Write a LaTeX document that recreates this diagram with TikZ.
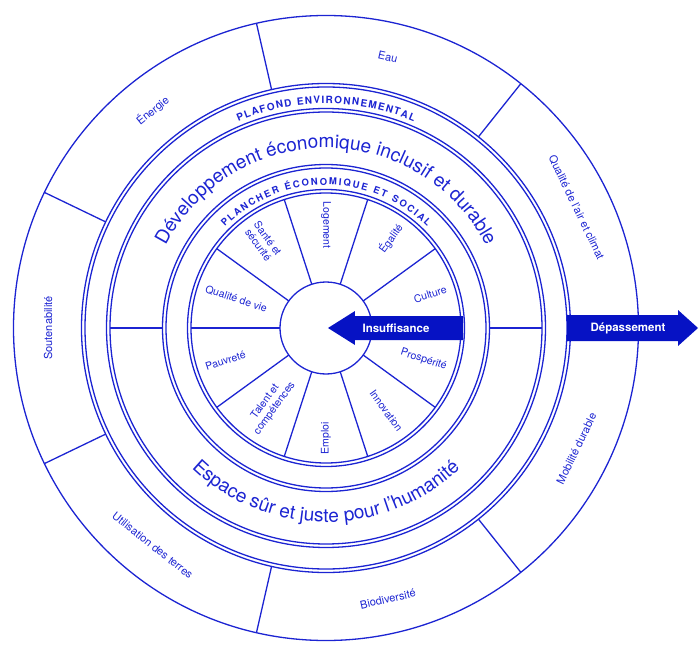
\documentclass[tikz,border=0pt]{standalone}
\usepackage{fontspec}
\setmainfont{TeX Gyre Heros}
\usetikzlibrary{decorations.text}
\definecolor{azul}{RGB}{28,36,210}
\definecolor{azulfuerte}{RGB}{6,18,196}
\newcommand{\chico}{\fontsize{10.5}{11.5}\selectfont}
\newcommand{\medio}{\fontsize{11}{12}\selectfont}
\newcommand{\grande}{\fontsize{19}{21}\selectfont}
\newcommand{\anillo}{\fontsize{10}{11}\selectfont\bfseries}
\newcommand{\piso}{\fontsize{9.5}{11}\selectfont\bfseries}

\begin{document}
\begin{tikzpicture}[x=1pt,y=1pt,line width=1.3pt,
    externo/.style={text=azul,font=\medio},
    interno/.style={text=azul,font=\chico,inner sep=0pt,align=center},
    flecha/.style={text=white,font=\fontsize{11.5}{12}\selectfont\bfseries}]
\useasboundingbox (-326,-328) rectangle (373,328);
% anillos
\draw[azul] (0,0) circle (312.5);
\draw[azul] (0,0) circle (244.5);
\draw[azul] (0,0) circle (241);
\draw[azul] (0,0) circle (219.5);
\draw[azul] (0,0) circle (216);
\draw[azul] (0,0) circle (163.5);
\draw[azul] (0,0) circle (160);
\draw[azul] (0,0) circle (138.5);
\draw[azul] (0,0) circle (135);
\draw[azul] (0,0) circle (46);
% divisiones
\foreach \i in {0,...,6} \draw[azul] ({\i*360/7}:244.5) -- ({\i*360/7}:312.5);
\foreach \a in {0,36,...,324} \draw[azul] (\a:46) -- (\a:135);
\draw[azul] (0:163.5) -- (0:216);
\draw[azul] (180:163.5) -- (180:216);
% textos curvos
\path[decorate,decoration={text along path,text color=azul,text align={fit to path},
    text={|\anillo|PLAFOND ENVIRONNEMENTAL}}] (113:224.5) arc[start angle=113,end angle=67,radius=224.5];
\path[decorate,decoration={text along path,text color=azul,text align={fit to path},
    text={|\piso|PLANCHER ÉCONOMIQUE ET SOCIAL}}] (135:143) arc[start angle=135,end angle=45,radius=143];
\path[decorate,decoration={text along path,text color=azul,text align=center,
    text={|\grande|Développement économique inclusif et durable}}] (170:180) arc[start angle=170,end angle=10,radius=180];
\path[decorate,decoration={text along path,text color=azul,text align=center,
    text={|\grande|Espace sûr et juste pour l'humanité}}] (190:194) arc[start angle=190,end angle=350,radius=194];
% limites ambientales
\node[externo,rotate=-12.86] (eau) at (77.14:278) {Eau};
\node[externo,rotate=-64.29] (air) at (25.71:278) {Qualité de l'air et climat};
\node[externo,rotate=64.29] (mobilite) at (-25.71:278) {Mobilité durable};
\node[externo,rotate=12.86] (biodiv) at (-77.14:278) {Biodiversité};
\node[externo,rotate=-38.57] (terres) at (231.43:278) {Utilisation des terres};
\node[externo,rotate=90] (soutenab) at (180:278) {Soutenabilité};
\node[externo,rotate=38.57] (energie) at (128.57:278) {Énergie};
% piso social
\node[interno,rotate=-90,anchor=west] (logement) at (90:127) {Logement};
\node[interno,rotate=54,anchor=east] (egalite) at (54:127) {Égalité};
\node[interno,rotate=18,anchor=east] (culture) at (18:127) {Culture};
\node[interno,rotate=-18,anchor=east] (prosperite) at (-18:127) {Prospérité};
\node[interno,rotate=-54,anchor=east] (innovation) at (-54:127) {Innovation};
\node[interno,rotate=90,anchor=west] (emploi) at (-90:127) {Emploi};
\node[interno,rotate=54,anchor=west] (talent) at (-126:127) {Talent et\\compétences};
\node[interno,rotate=18,anchor=west] (pauvrete) at (198:127) {Pauvreté};
\node[interno,rotate=-18,anchor=west] (qualite) at (162:127) {Qualité de vie};
\node[interno,rotate=-54,anchor=west] (sante) at (126:127) {Santé et\\sécurité};
% flechas
\fill[azulfuerte] (2,0) -- (29,17) -- (29,12) -- (137,12) -- (137,-12) -- (29,-12) -- (29,-17) -- cycle;
\node[flecha] (insuf) at (70,0) {Insuffisance}; % hacia dentro
\fill[azulfuerte] (241,13) -- (352,13) -- (352,18) -- (372,0) -- (352,-18) -- (352,-13) -- (241,-13) -- cycle;
\node[flecha] (depass) at (302,0) {Dépassement}; % hacia fuera
\end{tikzpicture}
\end{document}
